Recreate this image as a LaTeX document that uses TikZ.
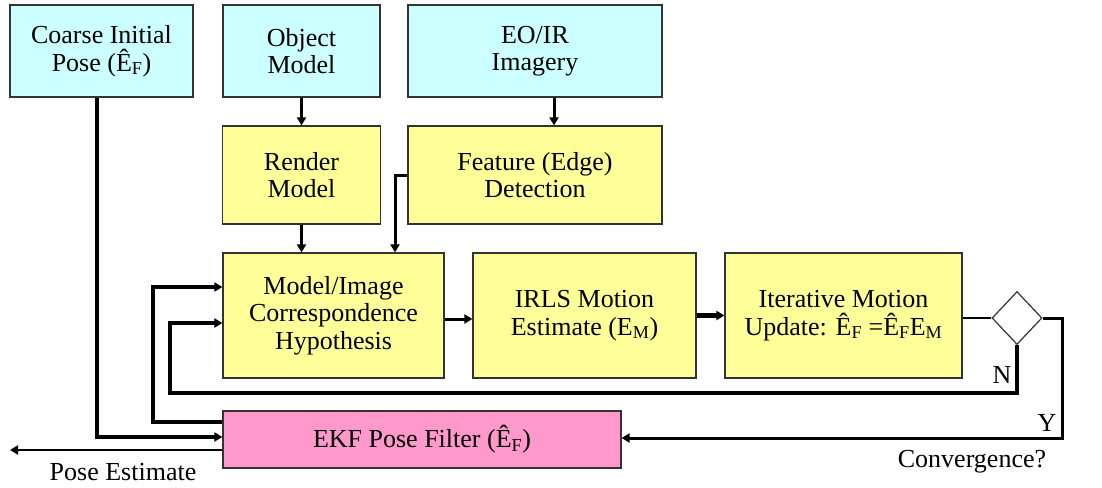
\documentclass[tikz,border=0pt]{standalone}
\usepackage{fontspec}
\setmainfont{Liberation Serif}
\newfontfamily\tnr{Liberation Serif}
\usetikzlibrary{arrows.meta,shapes.geometric}
\definecolor{cyanbox}{HTML}{CCFFFF}
\definecolor{yellowbox}{HTML}{FFFF99}
\definecolor{pinkbox}{HTML}{FF99CC}
\definecolor{bordercol}{HTML}{333333}
\begin{document}
\begin{tikzpicture}[x=1pt,y=-1pt,
  box/.style={draw=bordercol,line width=1.2pt,align=center,inner sep=0pt,
    font=\tnr\fontsize{26}{27.5}\selectfont},
  inbox/.style={box,fill=cyanbox},
  procbox/.style={box,fill=yellowbox},
  filterbox/.style={box,fill=pinkbox},
  lbl/.style={font=\tnr\fontsize{26}{27.5}\selectfont,inner sep=0pt},
  arr/.style={-{Triangle[length=8pt,width=9pt]}},
  vthick/.style={line width=4pt},
  mthick/.style={line width=3pt},
  lthick/.style={line width=2.2pt}]
\useasboundingbox (0,0) rectangle (1102,487);

\node[inbox,minimum width=183pt,minimum height=92pt] (coarse) at (101.5,51) {Coarse Initial\\Pose (Ê\textsubscript{F})};
\node[inbox,minimum width=157pt,minimum height=92pt] (obj) at (301.5,51) {Object\\Model};
\node[inbox,minimum width=254pt,minimum height=92pt] (eoir) at (535,51) {EO/IR\\Imagery};
\node[procbox,minimum width=158pt,minimum height=98pt] (render) at (301.5,175) {Render\\Model};
\node[procbox,minimum width=254pt,minimum height=98pt] (feat) at (535,175) {Feature (Edge)\\Detection};
\node[procbox,minimum width=221pt,minimum height=125pt] (corr) at (333.5,315.5) {Model/Image\\Correspondence\\Hypothesis};
\node[procbox,minimum width=223pt,minimum height=125pt] (irls) at (584.5,315.5) {IRLS Motion\\Estimate (E\textsubscript{M})};
\node[procbox,minimum width=237pt,minimum height=125pt] (iter) at (843.5,315.5) {Iterative Motion\\Update: Ê\textsubscript{F} =Ê\textsubscript{F}E\textsubscript{M}};
\node[draw=bordercol,line width=1.2pt,fill=white,diamond,inner sep=0pt,minimum width=50pt,minimum height=53pt] (conv) at (1017,318) {};
\node[filterbox,minimum width=398pt,minimum height=57pt] (ekf) at (422,439.5) {EKF Pose Filter (Ê\textsubscript{F})};

\coordinate (fk) at (395,175);
\coordinate (ea) at (153,422);
\coordinate (nl) at (170,393);
\coordinate (yc) at (1062,438);
\coordinate (po) at (10,450);
\coordinate (cx) at (97,437);

\node[lbl] (pe) at (123,472) {Pose Estimate};
\node[lbl] (cq) at (972,462) {Convergence?};
\node[lbl] (nlab) at (1002,375) {N};
\node[lbl] (ylab) at (1047,423) {Y};

\draw[arr,lthick] (obj.south) -- (render.north);
\draw[arr,mthick] ([xshift=19pt]eoir.south) -- ([xshift=19pt]feat.north);
\draw[arr,lthick] (render.south) -- (render.south |- corr.north);
\draw[arr,mthick] (feat.west) -- (fk) -- (fk |- corr.north);
\draw[arr,vthick] ([xshift=-4.5pt]coarse.south) -- (cx) -- (cx -| ekf.west);
\draw[arr,vthick] ([yshift=17.5pt]ekf.west) -- (ea) |- ([yshift=28.5pt]corr.west);
\draw[arr,vthick] (conv.south) |- (nl) |- ([yshift=-7.5pt]corr.west);
\draw[arr,mthick] (conv.east) -| (yc) -- (yc -| ekf.east);
\draw[line width=1.5pt] (conv.west -| iter.east) -- (conv.west);
\draw[arr,mthick] ([yshift=-3.5pt]corr.east) -- ([yshift=-3.5pt]irls.west);
\draw[arr,line width=4.5pt] (irls.east) -- (iter.west);
\draw[arr,lthick] ([yshift=-10.5pt]ekf.west) -- (po);
\end{tikzpicture}
\end{document}
